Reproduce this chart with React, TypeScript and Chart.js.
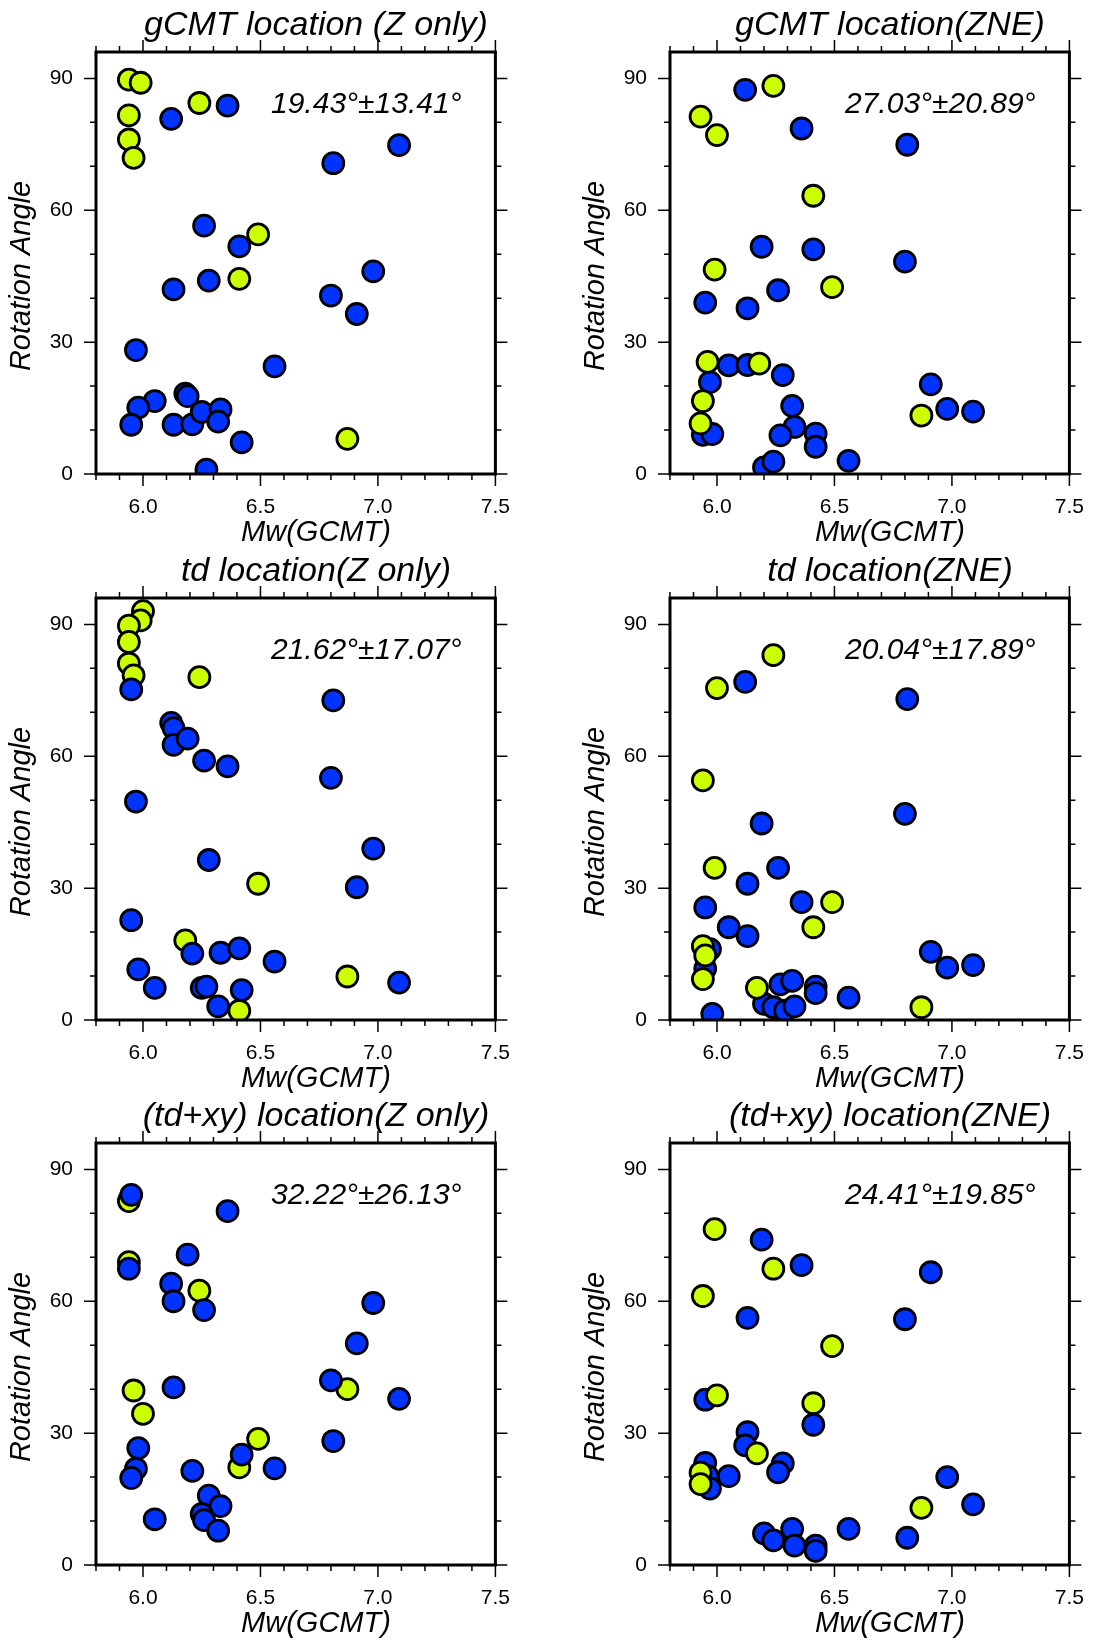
import React, { useEffect, useRef } from "react";
import { Chart, registerables } from "chart.js";

Chart.register(...registerables);

// ---- axis ticks ----
const X_TICKS = [5.8, 5.9, 6.0, 6.1, 6.2, 6.3, 6.4, 6.5, 6.6, 6.7, 6.8, 6.9, 7.0, 7.1, 7.2, 7.3, 7.4, 7.5];
const X_LABELED = [6.0, 6.5, 7.0, 7.5];
const Y_TICKS = [0, 10, 20, 30, 40, 50, 60, 70, 80, 90];
const Y_LABELED = [0, 30, 60, 90];
const X_MIN = 5.8;
const X_MAX = 7.5;
const Y_MIN = 0;
const Y_MAX = 96;

const X_TITLE = "Mw(GCMT)";
const Y_TITLE = "Rotation Angle";

const BLUE = "#0033ff";
const YELLOW = "#ccff00";

type Pt = [number, number];

// ---- panel 1: gCMT location (Z only) ----
const GCMT_Z_BLUE: Pt[] = [
  [6.12, 80.8], [6.36, 83.8], [6.81, 70.7], [7.09, 74.8], [6.26, 56.5], [6.41, 51.8],
  [6.28, 44.0], [6.13, 42.0], [6.98, 46.1], [6.80, 40.6], [6.91, 36.4], [5.97, 28.2],
  [6.56, 24.5], [6.18, 18.3], [6.19, 17.7], [6.05, 16.6], [5.98, 15.1], [5.95, 11.2],
  [6.13, 11.2], [6.21, 11.3], [6.25, 14.1], [6.33, 14.7], [6.32, 11.9], [6.42, 7.2],
  [6.27, 1.0],
];
const GCMT_Z_YELLOW: Pt[] = [
  [5.94, 89.7], [5.99, 89.0], [5.94, 81.6], [5.94, 76.1], [5.96, 71.9], [6.24, 84.4],
  [6.49, 54.5], [6.41, 44.4], [6.87, 8.0],
];

// ---- panel 2: gCMT location(ZNE) ----
const GCMT_ZNE_BLUE: Pt[] = [
  [6.12, 87.4], [6.36, 78.6], [6.81, 74.9], [6.19, 51.7], [6.41, 51.1], [6.80, 48.3],
  [6.26, 41.8], [5.95, 39.0], [6.13, 37.7], [6.05, 24.7], [6.13, 24.8], [6.28, 22.5],
  [5.97, 20.9], [6.32, 15.5], [6.91, 20.4], [6.98, 14.8], [7.09, 14.2], [6.33, 10.7],
  [6.27, 8.8], [6.42, 9.2], [6.42, 6.2], [5.94, 8.9], [5.98, 9.1], [6.56, 3.0],
  [6.20, 1.5], [6.24, 2.8],
];
const GCMT_ZNE_YELLOW: Pt[] = [
  [6.24, 88.3], [5.93, 81.3], [6.00, 77.1], [6.41, 63.3], [5.99, 46.5], [6.49, 42.5],
  [5.96, 25.5], [6.18, 25.1], [5.94, 16.6], [5.93, 11.5], [6.87, 13.3],
];

// ---- panel 3: td location(Z only) ----
const TD_Z_BLUE: Pt[] = [
  [5.95, 75.2], [6.81, 72.7], [6.12, 67.6], [6.13, 66.4], [6.13, 62.6], [6.19, 64.0],
  [6.26, 59.0], [6.36, 57.7], [6.80, 55.1], [5.97, 49.7], [6.98, 39.0], [6.28, 36.4],
  [6.91, 30.2], [5.95, 22.7], [6.21, 15.1], [6.33, 15.3], [6.41, 16.3], [6.56, 13.3],
  [5.98, 11.5], [6.05, 7.3], [6.25, 7.3], [6.27, 7.6], [6.42, 6.8], [7.09, 8.5],
  [6.32, 3.1],
];
const TD_Z_YELLOW: Pt[] = [
  [6.00, 93.0], [5.99, 90.9], [5.94, 89.7], [5.94, 86.0], [5.94, 81.1], [5.96, 78.4],
  [6.24, 78.0], [6.49, 31.0], [6.18, 18.1], [6.87, 9.9], [6.41, 2.1],
];

// ---- panel 4: td location(ZNE) ----
const TD_ZNE_BLUE: Pt[] = [
  [6.12, 76.9], [6.81, 73.0], [6.80, 46.9], [6.19, 44.7], [6.26, 34.6], [6.13, 31.0],
  [6.36, 26.8], [5.95, 25.6], [6.05, 21.1], [6.13, 19.1], [5.97, 16.1], [5.95, 11.7],
  [6.91, 15.5], [6.98, 11.9], [7.09, 12.5], [6.27, 8.1], [6.32, 8.9], [6.42, 7.6],
  [6.42, 6.1], [6.20, 3.7], [6.24, 2.9], [6.29, 2.1], [6.33, 3.1], [6.56, 5.1],
  [5.98, 1.4],
];
const TD_ZNE_YELLOW: Pt[] = [
  [6.24, 83.0], [6.00, 75.5], [5.94, 54.5], [5.99, 34.6], [6.49, 26.8], [6.41, 21.1],
  [5.94, 16.8], [5.95, 14.7], [5.94, 9.3], [6.17, 7.3], [6.87, 2.9],
];

// ---- panel 5: (td+xy) location(Z only) ----
const TDXY_Z_BLUE: Pt[] = [
  [5.95, 84.2], [5.94, 67.4], [6.36, 80.5], [6.19, 70.6], [6.12, 64.0], [6.13, 60.0],
  [6.26, 58.0], [6.98, 59.6], [6.91, 50.4], [6.80, 42.0], [6.13, 40.4], [7.09, 37.8],
  [6.81, 28.2], [5.98, 26.6], [5.97, 21.9], [5.95, 19.8], [6.21, 21.4], [6.42, 25.1],
  [6.56, 22.0], [6.28, 15.8], [6.33, 13.4], [6.25, 11.6], [6.26, 10.2], [6.32, 7.8],
  [6.05, 10.4],
];
const TDXY_Z_YELLOW: Pt[] = [
  [5.94, 82.8], [5.94, 68.9], [6.24, 62.4], [5.96, 39.7], [6.00, 34.4], [6.49, 28.7],
  [6.41, 22.2], [6.87, 40.0],
];

// ---- panel 6: (td+xy) location(ZNE) ----
const TDXY_ZNE_BLUE: Pt[] = [
  [6.19, 74.0], [6.36, 68.2], [6.91, 66.6], [6.13, 56.2], [6.80, 55.9], [5.95, 37.6],
  [6.13, 30.2], [6.41, 31.9], [6.12, 27.2], [5.95, 23.2], [6.28, 23.1], [6.26, 21.1],
  [6.05, 20.2], [5.96, 20.2], [5.97, 17.4], [6.98, 20.0], [7.09, 13.8], [6.20, 7.2],
  [6.24, 5.6], [6.32, 8.2], [6.33, 4.4], [6.42, 4.4], [6.42, 3.2], [6.56, 8.2],
  [6.81, 6.2],
];
const TDXY_ZNE_YELLOW: Pt[] = [
  [5.99, 76.4], [6.24, 67.4], [5.94, 61.2], [6.49, 49.8], [6.00, 38.6], [6.41, 36.8],
  [6.17, 25.4], [6.87, 13.0], [5.93, 21.0], [5.93, 18.4],
];

const TITLES = [
  "gCMT location (Z only)",
  "gCMT location(ZNE)",
  "td location(Z only)",
  "td location(ZNE)",
  "(td+xy) location(Z only)",
  "(td+xy) location(ZNE)",
];
const STATS = [
  "19.43°±13.41°",
  "27.03°±20.89°",
  "21.62°±17.07°",
  "20.04°±17.89°",
  "32.22°±26.13°",
  "24.41°±19.85°",
];

const SERIES: { blue: Pt[]; yellow: Pt[]; yellowOnTop: boolean }[] = [
  { blue: GCMT_Z_BLUE, yellow: GCMT_Z_YELLOW, yellowOnTop: true },
  { blue: GCMT_ZNE_BLUE, yellow: GCMT_ZNE_YELLOW, yellowOnTop: false },
  { blue: TD_Z_BLUE, yellow: TD_Z_YELLOW, yellowOnTop: true },
  { blue: TD_ZNE_BLUE, yellow: TD_ZNE_YELLOW, yellowOnTop: false },
  { blue: TDXY_Z_BLUE, yellow: TDXY_Z_YELLOW, yellowOnTop: true },
  { blue: TDXY_ZNE_BLUE, yellow: TDXY_ZNE_YELLOW, yellowOnTop: false },
];

// ---- layout (px) ----
const CANVAS_W = 531;
const CANVAS_H = 552;
const AREA_LEFT = 96;
const AREA_TOP = 52;
const AREA_RIGHT = 512;
const AREA_BOTTOM = 474;
const COL_LEFT = [0, 574];
const ROW_TOP = [0, 546, 1091];

const FONT = '"Liberation Sans", Arial, Helvetica, sans-serif';

const gmtFrame = {
  id: "gmtFrame",
  afterDraw(chart: any, _args: any, opts: any) {
    const { ctx, chartArea: a } = chart;
    const xs = chart.scales.x;
    const ys = chart.scales.y;
    ctx.save();
    ctx.strokeStyle = "#000";
    ctx.lineWidth = 1.5;
    ctx.beginPath();
    for (const v of X_TICKS) {
      const px = xs.getPixelForValue(v);
      const len = X_LABELED.includes(v) ? 12 : 6;
      ctx.moveTo(px, a.bottom);
      ctx.lineTo(px, a.bottom + len);
      ctx.moveTo(px, a.top);
      ctx.lineTo(px, a.top - len);
    }
    for (const v of Y_TICKS) {
      const py = ys.getPixelForValue(v);
      const len = Y_LABELED.includes(v) ? 12 : 6;
      ctx.moveTo(a.left, py);
      ctx.lineTo(a.left - len, py);
      ctx.moveTo(a.right, py);
      ctx.lineTo(a.right + len, py);
    }
    ctx.stroke();
    ctx.lineWidth = 3;
    ctx.strokeRect(a.left, a.top, a.right - a.left, a.bottom - a.top);

    ctx.fillStyle = "#000";
    // panel title
    ctx.font = `italic 34px ${FONT}`;
    ctx.textAlign = "center";
    ctx.textBaseline = "alphabetic";
    ctx.fillText(opts.title, a.left + 220, a.top - 17);
    // x axis title
    ctx.font = `italic 29px ${FONT}`;
    ctx.fillText(X_TITLE, a.left + 220, a.bottom + 67);
    // y axis title
    ctx.save();
    ctx.translate(30, a.top + 224);
    ctx.rotate(-Math.PI / 2);
    ctx.fillText(Y_TITLE, 0, 0);
    ctx.restore();
    // statistics
    ctx.font = `italic 30px ${FONT}`;
    ctx.textAlign = "left";
    ctx.fillText(opts.stat, a.left + 175, a.top + 61);
    ctx.restore();
  },
};

function Panel({ index }: { index: number }) {
  const ref = useRef<HTMLCanvasElement | null>(null);
  useEffect(() => {
    if (!ref.current) return;
    const s = SERIES[index];
    const blueDs = {
      label: "blue",
      data: s.blue.map(([x, y]) => ({ x, y })),
      backgroundColor: BLUE,
      borderColor: "#000",
      pointRadius: 10.5,
      pointBorderWidth: 2.8,
      pointHoverRadius: 10.5,
      clip: 0,
    };
    const yellowDs = {
      label: "yellow",
      data: s.yellow.map(([x, y]) => ({ x, y })),
      backgroundColor: YELLOW,
      borderColor: "#000",
      pointRadius: 10.5,
      pointBorderWidth: 2.8,
      pointHoverRadius: 10.5,
      clip: 0,
    };
    const datasets = s.yellowOnTop ? [blueDs, yellowDs] : [yellowDs, blueDs];
    const chart = new Chart(ref.current, {
      type: "scatter",
      data: { datasets: datasets as any },
      plugins: [gmtFrame as any],
      options: {
        responsive: false,
        animation: false,
        devicePixelRatio: 1,
        events: [],
        layout: {
          padding: { left: 0, top: AREA_TOP, right: CANVAS_W - AREA_RIGHT, bottom: 0 },
        },
        plugins: {
          legend: { display: false },
          title: { display: false },
          tooltip: { enabled: false },
          gmtFrame: { title: TITLES[index], stat: STATS[index] },
        } as any,
        scales: {
          x: {
            type: "linear",
            min: X_MIN,
            max: X_MAX,
            grid: { display: false, drawTicks: false },
            border: { display: false },
            afterBuildTicks: (scale: any) => {
              scale.ticks = X_LABELED.map((v) => ({ value: v }));
            },
            afterFit: (scale: any) => {
              scale.height = CANVAS_H - AREA_BOTTOM;
            },
            ticks: {
              autoSkip: false,
              maxRotation: 0,
              padding: 21,
              color: "#000",
              font: { family: FONT, size: 21 },
              callback: (v: any) => Number(v).toFixed(1),
            },
          },
          y: {
            type: "linear",
            min: Y_MIN,
            max: Y_MAX,
            grid: { display: false, drawTicks: false },
            border: { display: false },
            afterBuildTicks: (scale: any) => {
              scale.ticks = Y_LABELED.map((v) => ({ value: v }));
            },
            afterFit: (scale: any) => {
              scale.width = AREA_LEFT;
            },
            ticks: {
              autoSkip: false,
              padding: 23,
              color: "#000",
              font: { family: FONT, size: 21 },
              callback: (v: any) => String(v),
            },
          },
        },
      } as any,
    });
    return () => chart.destroy();
  }, [index]);
  const col = index % 2;
  const row = Math.floor(index / 2);
  return (
    <canvas
      ref={ref}
      width={CANVAS_W}
      height={CANVAS_H}
      style={{
        position: "absolute",
        left: COL_LEFT[col],
        top: ROW_TOP[row],
        width: CANVAS_W,
        height: CANVAS_H,
      }}
    />
  );
}

export default function App() {
  return (
    <div
      style={{
        position: "absolute",
        left: 0,
        top: 0,
        width: 1105,
        height: 1643,
        background: "#fff",
        overflow: "hidden",
      }}
    >
      {SERIES.map((_, i) => (
        <Panel key={i} index={i} />
      ))}
    </div>
  );
}
